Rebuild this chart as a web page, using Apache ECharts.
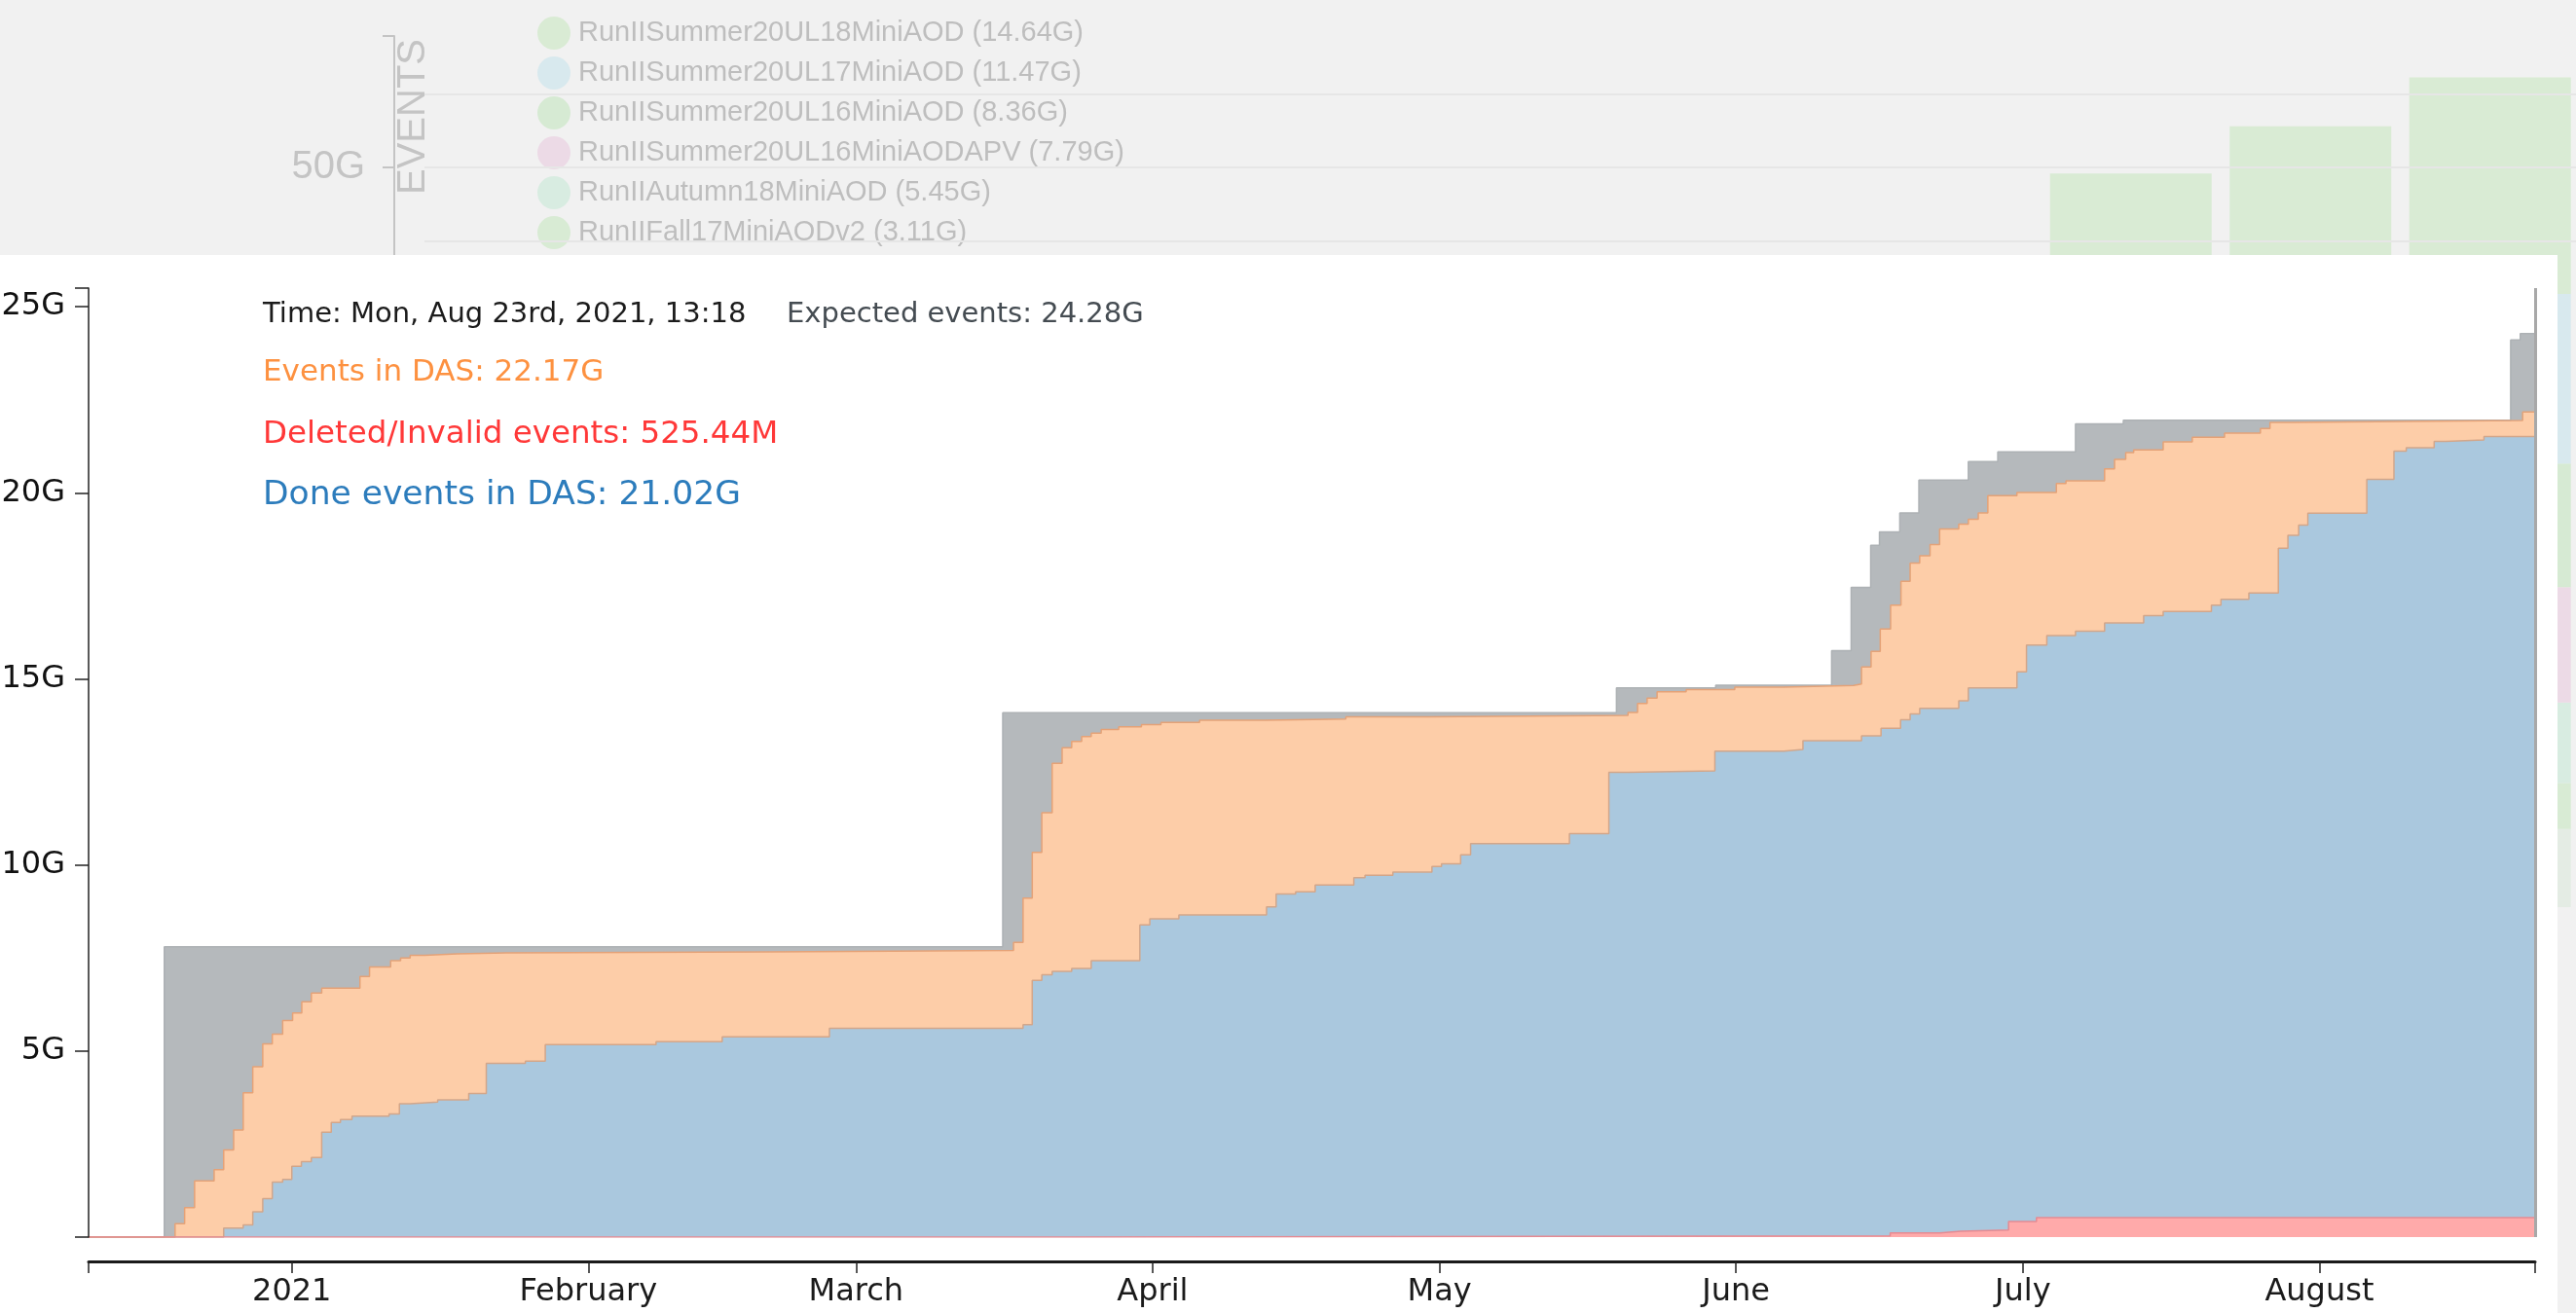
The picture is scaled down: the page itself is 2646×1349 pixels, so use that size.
<!DOCTYPE html>
<html>
<head>
<meta charset="utf-8">
<title>Events in DAS</title>
<script src="https://cdn.jsdelivr.net/npm/echarts@6/dist/echarts.min.js"></script>
<style>
html, body { margin: 0; padding: 0; background: #f1f1f1; }
#main { width: 2646px; height: 1349px; }
</style>
</head>
<body>
<div id="main"></div>
<script>
// ---- data (values in G events) ----
var timeMin = '2020-12-10 18:00';
var timeMax = '2021-08-23 13:18';

var tickDates = ['2021-01-01 00:00', '2021-02-01 00:00', '2021-03-01 00:00', '2021-04-01 00:00',
  '2021-05-01 00:00', '2021-06-01 00:00', '2021-07-01 00:00', '2021-08-01 00:00'];
var tickLabels = ['2021', 'February', 'March', 'April', 'May', 'June', 'July', 'August'];
var yTicks = [0, 5, 10, 15, 20, 25, 25.5];
var yLabels = [5, 10, 15, 20, 25];

// expected events (grey)
var expected = [
  ['2020-12-10 18:00', 0], ['2020-12-18 16:00', 7.80], ['2021-03-16 08:00', 14.09],
  ['2021-05-19 12:00', 14.76], ['2021-05-29 21:00', 14.83], ['2021-06-11 00:00', 15.76],
  ['2021-06-13 01:00', 17.46], ['2021-06-15 02:00', 18.59], ['2021-06-16 00:00', 18.95],
  ['2021-06-18 03:00', 19.46], ['2021-06-20 03:00', 20.34], ['2021-06-25 07:00', 20.84],
  ['2021-06-28 09:00', 21.10], ['2021-07-06 12:00', 21.85], ['2021-07-11 12:00', 21.95],
  ['2021-08-21 00:00', 24.11], ['2021-08-22 00:00', 24.28], ['2021-08-23 13:18', 24.28]
];

// events in DAS (orange)
var inDas = [
  ['2020-12-10 18:00', 0], ['2020-12-19 19:00', 0.36], ['2020-12-20 19:00', 0.79],
  ['2020-12-21 20:00', 1.51], ['2020-12-23 21:00', 1.81], ['2020-12-24 21:00', 2.34],
  ['2020-12-25 22:00', 2.88], ['2020-12-26 22:00', 3.88], ['2020-12-27 22:00', 4.58],
  ['2020-12-28 23:00', 5.19], ['2020-12-29 23:00', 5.45], ['2020-12-31 01:00', 5.82],
  ['2021-01-01 02:00', 6.02], ['2021-01-02 01:00', 6.32], ['2021-01-03 01:00', 6.56],
  ['2021-01-04 03:00', 6.69], ['2021-01-08 03:00', 7.00], ['2021-01-09 03:00', 7.26],
  ['2021-01-11 08:00', 7.43], ['2021-01-12 09:00', 7.50], ['2021-01-13 09:00', 7.57],
  ['2021-01-14 22:00', 7.61], ['2021-01-18 07:00', 7.64], ['2021-01-23 10:00', 7.66],
  ['2021-02-20 00:00', 7.70], ['2021-03-17 11:00', 7.92], ['2021-03-18 11:00', 9.11],
  ['2021-03-19 10:00', 10.34], ['2021-03-20 10:00', 11.40], ['2021-03-21 12:00', 12.73],
  ['2021-03-22 13:00', 13.15], ['2021-03-23 13:00', 13.32], ['2021-03-24 14:00', 13.45],
  ['2021-03-25 14:00', 13.54], ['2021-03-26 15:00', 13.64], ['2021-03-28 11:00', 13.71],
  ['2021-03-30 20:00', 13.77], ['2021-04-01 21:00', 13.83], ['2021-04-05 22:00', 13.89],
  ['2021-04-12 17:00', 13.92], ['2021-04-21 05:00', 13.98], ['2021-04-29 17:00', 14.02],
  ['2021-05-20 17:00', 14.10], ['2021-05-21 17:00', 14.34], ['2021-05-22 17:00', 14.48],
  ['2021-05-23 18:00', 14.65], ['2021-05-26 19:00', 14.71], ['2021-05-31 21:00', 14.78],
  ['2021-06-05 23:00', 14.82], ['2021-06-13 07:00', 14.86], ['2021-06-14 03:00', 15.32],
  ['2021-06-15 03:00', 15.74], ['2021-06-16 02:00', 16.34], ['2021-06-17 04:00', 16.98],
  ['2021-06-18 06:00', 17.62], ['2021-06-19 05:00', 18.11], ['2021-06-20 05:00', 18.31],
  ['2021-06-21 07:00', 18.61], ['2021-06-22 07:00', 19.03], ['2021-06-24 07:00', 19.16],
  ['2021-06-25 07:00', 19.29], ['2021-06-26 08:00', 19.46], ['2021-06-27 08:00', 19.92],
  ['2021-06-30 09:00', 20.01], ['2021-07-04 12:00', 20.25], ['2021-07-05 12:00', 20.32],
  ['2021-07-09 13:00', 20.64], ['2021-07-10 14:00', 20.90], ['2021-07-11 18:00', 21.08],
  ['2021-07-12 14:00', 21.15], ['2021-07-15 16:00', 21.37], ['2021-07-18 17:00', 21.49],
  ['2021-07-22 02:00', 21.60], ['2021-07-25 20:00', 21.73], ['2021-07-26 20:00', 21.89],
  ['2021-07-28 21:00', 21.94], ['2021-08-22 06:00', 22.17], ['2021-08-23 13:18', 22.17]
];

// done events in DAS (blue)
var done = [
  ['2020-12-10 18:00', 0], ['2020-12-24 21:00', 0.24], ['2020-12-26 22:00', 0.33],
  ['2020-12-27 22:00', 0.68], ['2020-12-28 23:00', 1.03], ['2020-12-29 23:00', 1.48],
  ['2020-12-31 01:00', 1.55], ['2021-01-01 00:00', 1.90], ['2021-01-02 00:00', 2.03],
  ['2021-01-03 01:00', 2.14], ['2021-01-04 03:00', 2.82], ['2021-01-05 03:00', 3.08],
  ['2021-01-06 02:00', 3.16], ['2021-01-07 07:00', 3.25], ['2021-01-11 04:00', 3.31],
  ['2021-01-12 06:00', 3.58], ['2021-01-13 09:00', 3.63], ['2021-01-16 06:00', 3.69],
  ['2021-01-19 12:00', 3.86], ['2021-01-21 08:00', 4.67], ['2021-01-25 10:00', 4.73],
  ['2021-01-27 12:00', 5.17], ['2021-02-08 02:00', 5.25], ['2021-02-15 00:00', 5.38],
  ['2021-02-26 05:00', 5.61], ['2021-03-18 11:00', 5.71], ['2021-03-19 10:00', 6.90],
  ['2021-03-20 10:00', 7.05], ['2021-03-21 12:00', 7.14], ['2021-03-23 13:00', 7.22],
  ['2021-03-25 14:00', 7.43], ['2021-03-30 16:00', 8.39], ['2021-03-31 17:00', 8.55],
  ['2021-04-03 18:00', 8.66], ['2021-04-12 22:00', 8.87], ['2021-04-13 22:00', 9.22],
  ['2021-04-15 23:00', 9.28], ['2021-04-18 00:00', 9.46], ['2021-04-22 01:00', 9.66],
  ['2021-04-23 05:00', 9.72], ['2021-04-26 03:00', 9.81], ['2021-04-30 05:00', 9.96],
  ['2021-05-01 05:00', 10.03], ['2021-05-03 05:00', 10.27], ['2021-05-04 06:00', 10.57],
  ['2021-05-14 14:00', 10.84], ['2021-05-18 17:00', 12.49], ['2021-05-20 17:00', 12.53],
  ['2021-05-29 19:00', 13.06], ['2021-06-06 00:00', 13.10], ['2021-06-08 00:00', 13.34],
  ['2021-06-14 03:00', 13.47], ['2021-06-16 04:00', 13.67], ['2021-06-18 05:00', 13.90],
  ['2021-06-19 05:00', 14.06], ['2021-06-20 05:00', 14.21], ['2021-06-24 07:00', 14.41],
  ['2021-06-25 07:00', 14.76], ['2021-06-30 09:00', 15.19], ['2021-07-01 09:00', 15.91],
  ['2021-07-03 12:00', 16.16], ['2021-07-06 12:00', 16.28], ['2021-07-09 13:00', 16.50],
  ['2021-07-13 15:00', 16.70], ['2021-07-15 16:00', 16.81], ['2021-07-20 17:00', 16.98],
  ['2021-07-21 17:00', 17.14], ['2021-07-24 15:00', 17.31], ['2021-07-27 17:00', 18.51],
  ['2021-07-28 17:00', 18.86], ['2021-07-29 20:00', 19.13], ['2021-07-30 19:00', 19.45],
  ['2021-08-05 23:00', 20.36], ['2021-08-08 19:00', 21.12], ['2021-08-10 02:00', 21.21],
  ['2021-08-13 00:00', 21.38], ['2021-08-14 05:00', 21.42], ['2021-08-18 05:00', 21.51],
  ['2021-08-23 13:18', 21.51]
];

// deleted / invalid events (red)
var deleted = [
  ['2020-12-10 18:00', 0], ['2021-03-23 12:00', 0.03], ['2021-06-17 03:00', 0.11],
  ['2021-06-22 08:00', 0.16], ['2021-06-24 12:00', 0.19], ['2021-06-29 12:00', 0.42],
  ['2021-07-02 10:00', 0.525], ['2021-08-23 13:18', 0.525]
];

// faded chart behind the panel
var bgMonths = ['2020-09', '2020-10', '2020-11', '2020-12', '2021-01', '2021-02',
  '2021-03', '2021-04', '2021-05', '2021-06', '2021-07', '2021-08'];
var bgNames = ['RunIISummer20UL18MiniAOD', 'RunIISummer20UL17MiniAOD', 'RunIISummer20UL16MiniAOD',
  'RunIISummer20UL16MiniAODAPV', 'RunIIAutumn18MiniAOD', 'RunIIFall17MiniAODv2', 'other'];
var bgTotals = ['14.64', '11.47', '8.36', '7.79', '5.45', '3.11', ''];
var bgColors = ['#d9ebd4', '#d8e9ee', '#d6ead3', '#ecdae6', '#d8ece1', '#d8ebd4', '#e4ece4'];
var bgValues = [
  ['-', '-', '-', '-', '-', '-', '-', '-', '-', 8.14, 11.34, 14.64],
  ['-', '-', '-', '-', '-', '-', '-', '-', '-', 11.47, 11.47, 11.47],
  ['-', '-', '-', '-', '-', '-', '-', '-', '-', 8.36, 8.36, 8.36],
  ['-', '-', '-', '-', '-', '-', '-', '-', '-', 7.79, 7.79, 7.79],
  ['-', '-', '-', '-', '-', '-', '-', '-', '-', 5.45, 5.45, 5.45],
  ['-', '-', '-', '-', '-', '-', '-', '-', '-', 3.11, 3.11, 3.11],
  ['-', '-', '-', '-', '-', '-', '-', '-', '-', 5.28, 5.28, 5.28]
];
var bgGridLines = [45, 50, 55];

// ---- helpers ----
function ts(s) {
  var p = s.split(' ');
  var d = p[0].split('-').map(Number);
  var h = (p[1] || '00:00').split(':').map(Number);
  return new Date(d[0], d[1] - 1, d[2], h[0], h[1]).getTime();
}
var tMin = ts(timeMin), tMax = ts(timeMax);
var labelTimes = tickDates.map(ts);
var tickTimes = [tMin].concat(labelTimes, [tMax]);

var FONT = 'DejaVu Sans';

function stepSeries(name, pts, fill, line) {
  return {
    name: name,
    type: 'line',
    step: 'end',
    xAxisIndex: 0,
    yAxisIndex: 0,
    data: pts.map(function (p) { return [ts(p[0]), p[1]]; }),
    symbol: 'none',
    showSymbol: false,
    lineStyle: { color: line, width: 1.5 },
    areaStyle: { color: fill, opacity: 1 },
    z: 2,
    silent: true
  };
}

var series = [
  stepSeries('Expected events', expected, '#b5b9bc', '#adb1b4'),
  stepSeries('Events in DAS', inDas, '#fdcda8', '#e5a277'),
  stepSeries('Done events in DAS', done, '#aac8de', '#d2a68a'),
  stepSeries('Deleted/Invalid events', deleted, '#ffaaaa', '#e58a92')
];
// hover line at the current time
series[3].markLine = {
  silent: true,
  symbol: 'none',
  label: { show: false },
  lineStyle: { color: '#a8a8a8', width: 3, type: 'solid' },
  data: [{ xAxis: tMax }]
};

// background stacked bars, bottom of the stack first
for (var i = bgNames.length - 1; i >= 0; i--) {
  var s = {
    name: bgNames[i],
    type: 'bar',
    stack: 'bg',
    xAxisIndex: 1,
    yAxisIndex: 1,
    barWidth: 166,
    data: bgValues[i],
    itemStyle: { color: bgColors[i] },
    z: 0,
    silent: true
  };
  if (i === bgNames.length - 1) {
    s.markLine = {
      silent: true,
      symbol: 'none',
      label: { show: false },
      lineStyle: { color: '#e6e6e6', width: 2, type: 'solid' },
      data: bgGridLines.map(function (v) { return { yAxis: v }; })
    };
  }
  series.push(s);
}

var myChart = echarts.init(document.getElementById('main'), null, { renderer: 'canvas' });

var option = {
  animation: false,
  backgroundColor: '#f1f1f1',
  textStyle: { fontFamily: FONT },
  grid: [
    { left: 91, right: 42, top: 296, bottom: 78, containLabel: false, outerBoundsMode: 'none' },
    { left: 436, right: -4, top: 37, bottom: 417, containLabel: false, outerBoundsMode: 'none' }
  ],
  legend: {
    data: bgNames.slice(0, 6),
    orient: 'vertical',
    left: 547,
    top: 12,
    itemWidth: 40,
    itemHeight: 34,
    itemGap: 7,
    icon: 'circle',
    selectedMode: false,
    z: 0,
    textStyle: { fontFamily: 'Liberation Sans', fontSize: 29, color: '#bebebe' },
    formatter: function (name) {
      return name + ' (' + bgTotals[bgNames.indexOf(name)] + 'G)';
    }
  },
  xAxis: [
    {
      type: 'value',
      gridIndex: 0,
      min: tMin,
      max: tMax,
      offset: 25,
      z: 3,
      axisLine: { show: true, onZero: false, lineStyle: { color: '#1a1a1a', width: 3 } },
      axisTick: { show: true, customValues: tickTimes, length: 12, lineStyle: { color: '#222', width: 1.5 } },
      axisLabel: {
        customValues: labelTimes,
        formatter: function (v) {
          var k = labelTimes.indexOf(v);
          return k < 0 ? '' : tickLabels[k];
        },
        fontFamily: FONT,
        fontSize: 32,
        color: '#1a1a1a',
        margin: 16
      },
      splitLine: { show: false }
    },
    {
      type: 'category',
      gridIndex: 1,
      data: bgMonths,
      show: false
    }
  ],
  yAxis: [
    {
      type: 'value',
      gridIndex: 0,
      min: 0,
      max: 25.5,
      z: 3,
      axisLine: { show: true, onZero: false, lineStyle: { color: '#222', width: 1.5 } },
      axisTick: { show: true, customValues: yTicks, length: 14, lineStyle: { color: '#222', width: 1.5 } },
      axisLabel: {
        customValues: yLabels,
        formatter: function (v) { return v + 'G'; },
        fontFamily: FONT,
        fontSize: 32,
        color: '#111',
        margin: 24
      },
      splitLine: { show: false }
    },
    {
      type: 'value',
      gridIndex: 1,
      min: 0,
      max: 58.9,
      offset: 31,
      z: 0,
      axisLine: { show: true, onZero: false, lineStyle: { color: '#c4c4c4', width: 2 } },
      axisTick: { show: true, customValues: [40, 50, 58.9], length: 12, lineStyle: { color: '#c4c4c4', width: 2 } },
      axisLabel: {
        customValues: [50],
        formatter: function (v) { return v + 'G'; },
        fontFamily: 'Liberation Sans',
        fontSize: 40,
        color: '#c4c4c4',
        margin: 30
      },
      splitLine: { show: false }
    }
  ],
  graphic: {
    elements: [
      {
        type: 'text', z: 0, silent: true,
        x: 425, y: 120, rotation: Math.PI / 2,
        style: { text: 'EVENTS', font: '40px "Liberation Sans"', fill: '#c4c4c4', align: 'center', verticalAlign: 'middle' }
      },
      {
        type: 'rect', z: 1, silent: true,
        shape: { x: 0, y: 262, width: 2627, height: 1087 },
        style: { fill: '#ffffff' }
      },
      {
        type: 'text', z: 5, silent: true, x: 270, y: 323,
        style: { text: 'Time: Mon, Aug 23rd, 2021, 13:18', font: '29px "DejaVu Sans"', fill: '#1b1b1b', verticalAlign: 'middle' }
      },
      {
        type: 'text', z: 5, silent: true, x: 808, y: 323,
        style: { text: 'Expected events: 24.28G', font: '29px "DejaVu Sans"', fill: '#454c52', verticalAlign: 'middle' }
      },
      {
        type: 'text', z: 5, silent: true, x: 270, y: 383,
        style: { text: 'Events in DAS: 22.17G', font: '31px "DejaVu Sans"', fill: '#fd9140', verticalAlign: 'middle' }
      },
      {
        type: 'text', z: 5, silent: true, x: 270, y: 447,
        style: { text: 'Deleted/Invalid events: 525.44M', font: '32.5px "DejaVu Sans"', fill: '#ff3838', verticalAlign: 'middle' }
      },
      {
        type: 'text', z: 5, silent: true, x: 270, y: 509,
        style: { text: 'Done events in DAS: 21.02G', font: '34.5px "DejaVu Sans"', fill: '#2c7cbc', verticalAlign: 'middle' }
      }
    ]
  },
  series: series
};

myChart.setOption(option);
window.addEventListener('resize', myChart.resize);
</script>
</body>
</html>
